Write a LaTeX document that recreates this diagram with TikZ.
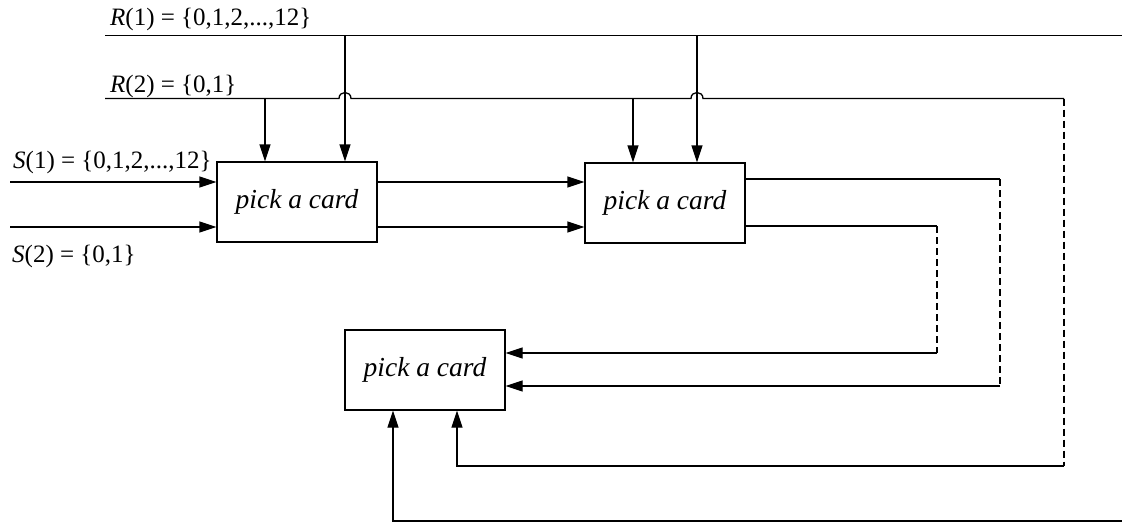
\documentclass[tikz,border=0pt]{standalone}
\usepackage{fontspec}
\setmainfont{Liberation Serif}
\usetikzlibrary{arrows.meta}
\begin{document}
\begin{tikzpicture}[x=1pt,y=-1pt,
  wire/.style={line width=1.3pt},
  feed/.style={wire,-{Triangle[length=17pt,width=11pt]}},
  dashseg/.style={wire,dash pattern=on 7pt off 4pt},
  card/.style={draw,line width=1.3pt,minimum width=160pt,minimum height=80pt,
    inner sep=0pt,font=\fontsize{27.5}{32}\selectfont\itshape},
  lbl/.style={anchor=base west,inner sep=0pt,font=\fontsize{25}{30}\selectfont}]
\useasboundingbox (0,0) rectangle (1122,531);

% the three card pickers
\node[card] (b1) at (297,202) {pick a card};
\node[card] (b2) at (665,203) {pick a card};
\node[card] (b3) at (425,370) {pick a card};

% labels of the input sets
\node[lbl] (lr1) at (110,25) {\textit{R}(1) = \{0,1,2,...,12\}};
\node[lbl] (lr2) at (110,92) {\textit{R}(2) = \{0,1\}};
\node[lbl] (ls1) at (13,168) {\textit{S}(1) = \{0,1,2,...,12\}};
\node[lbl] (ls2) at (12,262) {\textit{S}(2) = \{0,1\}};

% bus R(1)
\coordinate (r1s) at (105,35.5);
\coordinate (r1e) at (1122,35.5);
\draw[wire] (r1s) -- (r1e);
\coordinate (t1) at (345,35.5);
\coordinate (t2) at (697,35.5);
\draw[feed] (t1) -- (t1 |- b1.north);
\draw[feed] (t2) -- (t2 |- b2.north);

% bus R(2), hopping over the R(1) taps
\coordinate (r2s) at (105,98.5);
\coordinate (r2c) at (1064,98.5);
\coordinate (r2d) at (1064,466);
\draw[wire] (r2s) -- (339,98.5) .. controls (339,90.5) and (351,90.5) .. (351,98.5)
  -- (691,98.5) .. controls (691,90.5) and (703,90.5) .. (703,98.5) -- (r2c);
\draw[dashseg] (r2c) -- (r2d);
\draw[feed] (r2d) -| ([xshift=32pt]b3.south);
\coordinate (u1) at (265,98.5);
\coordinate (u2) at (633,98.5);
\draw[feed] (u1) -- (u1 |- b1.north);
\draw[feed] (u2) -- (u2 |- b2.north);

% inputs S(1), S(2)
\coordinate (s1) at (10,182);
\coordinate (s2) at (10,227);
\draw[feed] (s1) -- (s1 -| b1.west);
\draw[feed] (s2) -- (s2 -| b1.west);

% first picker into second picker
\coordinate (m1) at ([yshift=20pt]b1.east);
\coordinate (m2) at ([yshift=-25pt]b1.east);
\draw[feed] (m1) -- (m1 -| b2.west);
\draw[feed] (m2) -- (m2 -| b2.west);

% second picker fed back to the third
\coordinate (o1) at ([yshift=24pt]b2.east);
\coordinate (o2) at ([yshift=-23pt]b2.east);
\coordinate (c1) at (1000,179);
\coordinate (c2) at (1000,386);
\coordinate (d1) at (937,226);
\coordinate (d2) at (937,353);
\draw[wire] (o1) -- (c1);
\draw[dashseg] (c1) -- (c2);
\draw[feed] (c2) -- (c2 -| b3.east);
\draw[wire] (o2) -- (d1);
\draw[dashseg] (d1) -- (d2);
\draw[feed] (d2) -- (d2 -| b3.east);

% return line along the bottom
\coordinate (e1) at (1122,521);
\draw[feed] (e1) -| ([xshift=-32pt]b3.south);
\end{tikzpicture}
\end{document}
